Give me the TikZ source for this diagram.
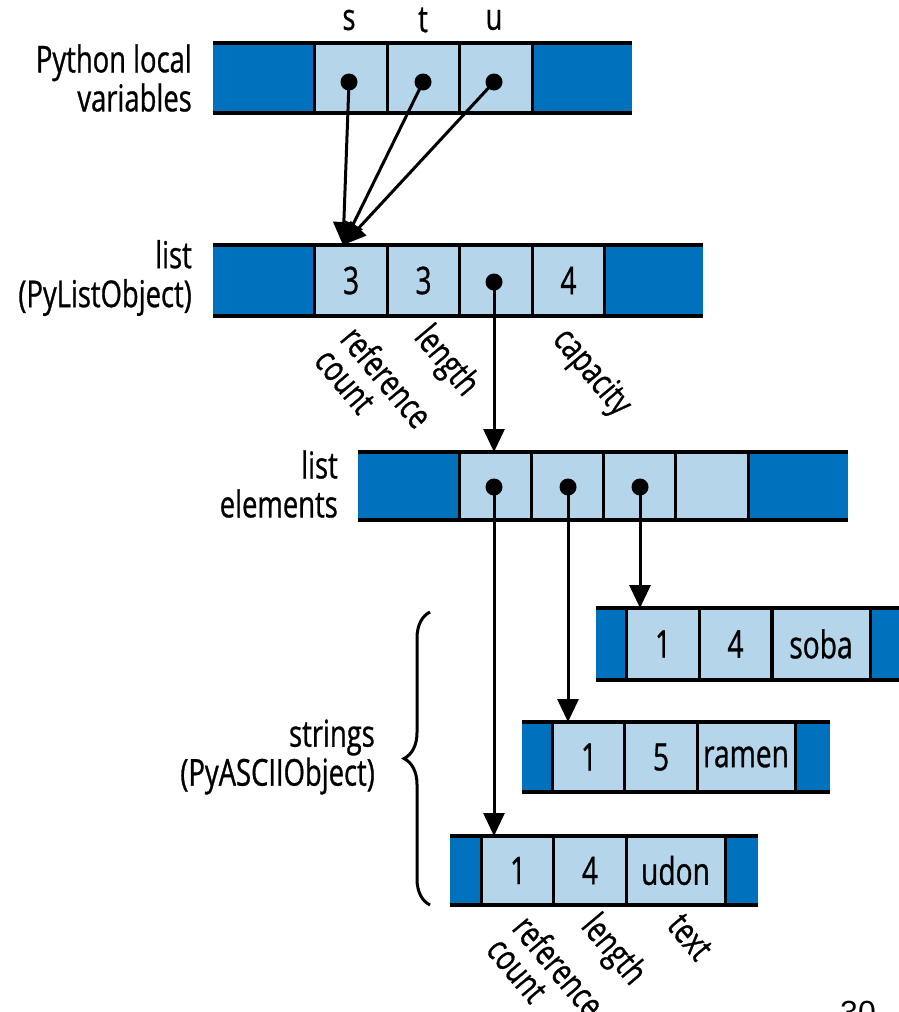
\documentclass[tikz,border=0pt]{standalone}
\usepackage{fontspec}
\setmainfont[FakeStretch=0.74,FakeBold=0.8]{Open Sans}
\newfontfamily\numfont{Liberation Sans}
\usetikzlibrary{arrows.meta,decorations.pathreplacing}
\definecolor{darkblue}{RGB}{0,113,188}
\definecolor{lightblue}{RGB}{180,213,234}
\begin{document}
\begin{tikzpicture}[x=1pt,y=-1pt,
  bar/.style={fill=darkblue, inner sep=0pt, outer sep=0pt},
  cell/.style={draw=black, line width=3pt, fill=lightblue, minimum width=#1, inner sep=0pt, font=\fontsize{38}{40}\selectfont},
  cell/.default=72.5pt,
  lbl/.style={align=right, anchor=east, inner sep=0pt, font=\fontsize{37}{39}\selectfont},
  rlbl/.style={align=left, anchor=north west, rotate=-50, inner sep=0pt, font=\fontsize{36}{34}\selectfont},
  dot/.style={circle, fill=black, inner sep=0pt, minimum size=17pt},
  ptr/.style={line width=3pt, -{Triangle[length=23pt,width=21pt]}},
  rail/.style={line width=4.5pt}]
\useasboundingbox (0,0) rectangle (898,1012);

% ---------- Python local variables ----------
\node[bar, minimum width=419pt, minimum height=70pt] (r1) at (422.5,78) {};
\node[cell, minimum height=70pt] (vs) at (351,78) {};
\node[cell, minimum height=70pt] (vt) at (423.5,78) {};
\node[cell, minimum height=70pt] (vu) at (496,78) {};
\draw[rail] (r1.north west) -- (r1.north east);
\draw[rail] (r1.south west) -- (r1.south east);
\node[dot] (ds) at (349,82) {};
\node[dot] (dt) at (423,82) {};
\node[dot] (du) at (494,82) {};
\node[font=\fontsize{37}{39}\selectfont] (ls) at (349,20) {s};
\node[font=\fontsize{37}{39}\selectfont] (lt) at (423,20) {t};
\node[font=\fontsize{37}{39}\selectfont] (lu) at (494,20) {u};
\node[lbl] (lpy) at (192,78) {Python local\\variables};

% ---------- list (PyListObject) ----------
\node[bar, minimum width=490pt, minimum height=71pt] (r2) at (458,280.5) {};
\node[cell, minimum height=71pt] (lrc) at (351,280.5) {3};
\node[cell, minimum height=71pt] (llen) at (423.5,280.5) {3};
\node[cell, minimum height=71pt] (lptr) at (496,280.5) {};
\node[cell, minimum height=71pt] (lcap) at (568.5,280.5) {4};
\draw[rail] (r2.north west) -- (r2.north east);
\draw[rail] (r2.south west) -- (r2.south east);
\node[dot] (dl) at (494,282) {};
\node[lbl] (llist) at (192,278) {list\\(PyListObject)};
\coordinate (tipA) at (343,245);
\draw[ptr] (ds.center) -- (tipA);
\draw[ptr] (dt.center) -- (tipA);
\draw[ptr] (du.center) -- (tipA);
\node[rlbl] (t1) at (360,322) {reference\\count};
\node[rlbl] (t2) at (434,320) {length};
\node[rlbl] (t3) at (572,323) {capacity};

% ---------- list elements ----------
\node[bar, minimum width=490pt, minimum height=68pt] (r3) at (603,486) {};
\node[cell, minimum height=68pt] (e1) at (496,486) {};
\node[cell, minimum height=68pt] (e2) at (568,486) {};
\node[cell, minimum height=68pt] (e3) at (640,486) {};
\node[cell, minimum height=68pt] (e4) at (712,486) {};
\draw[rail] (r3.north west) -- (r3.north east);
\draw[rail] (r3.south west) -- (r3.south east);
\node[dot] (de1) at (494,487) {};
\node[dot] (de2) at (568,487) {};
\node[dot] (de3) at (640,487) {};
\node[lbl] (lel) at (338,484) {list\\elements};
\coordinate (tipB) at (494,452);
\draw[ptr] (dl.center) -- (tipB);

% ---------- strings ----------
% soba
\node[bar, minimum width=320pt, minimum height=72pt] (s1) at (756,644) {};
\node[cell, minimum height=72pt] (s1a) at (663,644) {1};
\node[cell, minimum height=72pt] (s1b) at (735.5,644) {4};
\node[cell=98pt, minimum height=72pt] (s1c) at (821,644) {soba};
\draw[rail] (s1.north west) -- (s1.north east);
\draw[rail] (s1.south west) -- (s1.south east);
% ramen
\node[bar, minimum width=308pt, minimum height=70pt] (s2) at (676,757) {};
\node[cell, minimum height=70pt] (s2a) at (589,757) {1};
\node[cell, minimum height=70pt] (s2b) at (661,757) {5};
\node[cell=98pt, minimum height=70pt] (s2c) at (746,757) {ramen};
\draw[rail] (s2.north west) -- (s2.north east);
\draw[rail] (s2.south west) -- (s2.south east);
% udon
\node[bar, minimum width=308pt, minimum height=69pt] (s3) at (604,870.5) {};
\node[cell, minimum height=69pt] (s3a) at (518,870.5) {1};
\node[cell, minimum height=69pt] (s3b) at (590,870.5) {4};
\node[cell=99pt, minimum height=69pt] (s3c) at (675.5,870.5) {udon};
\draw[rail] (s3.north west) -- (s3.north east);
\draw[rail] (s3.south west) -- (s3.south east);

\coordinate (tipS1) at (640,608);
\coordinate (tipS2) at (568,722);
\coordinate (tipS3) at (494,836);
\draw[ptr] (de3.center) -- (tipS1);
\draw[ptr] (de2.center) -- (tipS2);
\draw[ptr] (de1.center) -- (tipS3);

\draw[line width=3pt, decorate, decoration={brace, amplitude=26pt}] (430,905) -- (430,612);
\node[lbl] (lstr) at (375,757) {strings\\(PyASCIIObject)};

\node[rlbl] (b1) at (532,911) {reference\\count};
\node[rlbl] (b2) at (601,909) {length};
\node[rlbl] (b3) at (684,911) {text};

\node[anchor=north, inner sep=0pt, font=\numfont\fontsize{32}{36}\selectfont] (pg) at (858,1001) {30};
\end{tikzpicture}
\end{document}
